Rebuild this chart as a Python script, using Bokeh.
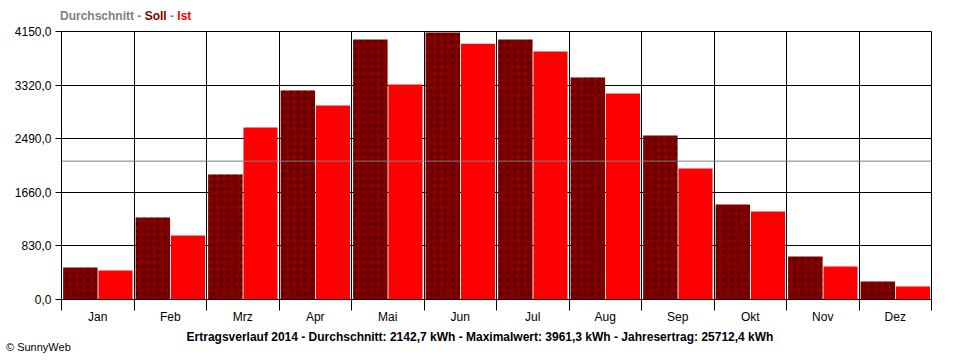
from bokeh.plotting import figure
from bokeh.layouts import column
from bokeh.models import FixedTicker, Span, ColumnDataSource, Div
from bokeh.embed import file_html
from bokeh.resources import INLINE

months = ["Jan", "Feb", "Mrz", "Apr", "Mai", "Jun", "Jul", "Aug", "Sep", "Okt", "Nov", "Dez"]
soll = [496, 1270, 1936, 3237, 4026, 4135, 4026, 3438, 2540, 1471, 666, 279]
ist = [449, 991, 2664, 3005, 3330, 3961.3, 3842, 3191, 2029, 1363, 511, 201]
durchschnitt = 2142.7
maximalwert = 3961.3
jahresertrag = 25712.4
y_ticks = [0, 830, 1660, 2490, 3320, 4150]
jahr = 2014

def de(v):
    return f"{v:.1f}".replace(".", ",")

FONT = "Liberation Sans"

idx = list(range(len(months)))
src = ColumnDataSource(dict(
    x_soll=[i + 0.26 for i in idx],
    x_ist=[i + 0.745 for i in idx],
    soll=soll, ist=ist, month=months,
))

p = figure(width=960, height=302, x_range=(0, len(months)), y_range=(0, y_ticks[-1]),
           output_backend="svg", toolbar_location=None, margin=0,
           min_border_left=61, min_border_right=29, min_border_top=7, min_border_bottom=27)
p.background_fill_color = "white"
p.border_fill_color = "white"
p.outline_line_color = "black"
p.outline_line_alpha = 1
p.outline_line_width = 1

p.vbar(x="x_soll", top="soll", width=0.475, bottom=0, source=src,
       fill_color="#800000", line_color=None,
       hatch_pattern=".", hatch_color="black", hatch_scale=7, hatch_alpha=0.35)
p.vbar(x="x_ist", top="ist", width=0.47, bottom=0, source=src,
       fill_color="#ff0000", line_color=None)

p.add_layout(Span(location=durchschnitt, dimension="width", line_color="#808080", line_width=1))

# x axis: labels at centres, ticks at boundaries
xa = p.xaxis[0]
xa.ticker = FixedTicker(ticks=[i + 0.5 for i in idx], minor_ticks=list(range(len(months) + 1)))
xa.major_label_overrides = {i + 0.5: m for i, m in zip(idx, months)}
xa.major_tick_out = 0
xa.major_tick_in = 0
xa.minor_tick_out = 11
xa.minor_tick_in = 0
xa.minor_tick_line_color = "black"
xa.axis_line_color = "black"
xa.major_label_text_font = FONT
xa.major_label_text_font_size = "12px"
xa.major_label_text_color = "black"
xa.major_label_standoff = -1

ya = p.yaxis[0]
ya.ticker = FixedTicker(ticks=y_ticks, minor_ticks=[])
ya.major_label_overrides = {t: de(t) for t in y_ticks}
ya.major_tick_out = 6
ya.major_tick_in = 0
ya.major_tick_line_color = "black"
ya.axis_line_color = "black"
ya.major_label_text_font = FONT
ya.major_label_text_font_size = "12px"
ya.major_label_text_color = "black"
ya.major_label_standoff = 4

p.xgrid.ticker = FixedTicker(ticks=list(range(len(months) + 1)))
p.xgrid.grid_line_color = "black"
p.xgrid.grid_line_alpha = 1
p.ygrid.ticker = FixedTicker(ticks=y_ticks)
p.ygrid.grid_line_color = "black"
p.ygrid.grid_line_alpha = 1

font_css = f"font-family:'{FONT}';font-size:12px;font-weight:bold;"
top_html = (
    f'<div style="position:relative;width:960px;height:24px;{font_css}">'
    f'<span style="position:absolute;left:60px;top:9px;white-space:nowrap;line-height:14px;">'
    f'<span style="color:#808080">Durchschnitt - </span>'
    f'<span style="color:#800000">Soll</span>'
    f'<span style="color:#808080"> - </span>'
    f'<span style="color:#ff0000">Ist</span></span></div>'
)
top_div = Div(text=top_html, width=960, height=24, margin=0)

bottom = (f"Ertragsverlauf {jahr} - Durchschnitt: {de(durchschnitt)} kWh - "
          f"Maximalwert: {de(maximalwert)} kWh - Jahresertrag: {de(jahresertrag)} kWh")
bottom_html = (
    f'<div style="position:relative;width:960px;height:34px;font-family:\'{FONT}\';">'
    f'<div style="position:absolute;left:0;width:960px;top:4px;text-align:center;'
    f'font-size:12px;font-weight:bold;line-height:14px;color:black;white-space:nowrap;">{bottom}</div>'
    f'<div style="position:absolute;left:6px;top:15px;font-size:11px;line-height:13px;'
    f'color:black;white-space:nowrap;">\u00a9 SunnyWeb</div></div>'
)
bottom_div = Div(text=bottom_html, width=960, height=34, margin=0)

layout = column(top_div, p, bottom_div, spacing=0, margin=0)

open("out.html", "w").write(file_html(layout, INLINE))
